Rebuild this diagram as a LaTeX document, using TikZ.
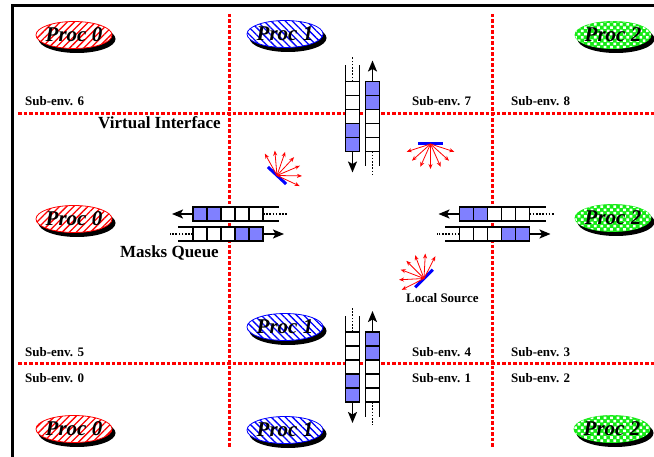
\documentclass[tikz,border=0pt]{standalone}
\usepackage{fontspec}
\setmainfont{Liberation Serif}
\usetikzlibrary{arrows.meta}
\usetikzlibrary{shapes.geometric}
\usetikzlibrary{patterns.meta}
\definecolor{qblue}{RGB}{128,128,255}
\definecolor{pgreen}{RGB}{20,235,20}
\tikzset{proc/.style = {ellipse, draw, fill = white, line width = 0.8pt, minimum width = 76pt, minimum height = 27pt, inner xsep = -10pt, inner ysep = -2pt, font = \bfseries\itshape\fontsize{21}{21}\selectfont}}
\tikzset{procA/.style = {proc, draw = red, postaction = {pattern = {Lines[angle = 45, distance = 5pt, line width = 1.3pt]}, pattern color = red}}}
\tikzset{procB/.style = {proc, draw = blue, postaction = {pattern = {Lines[angle = -45, distance = 5pt, line width = 1.3pt]}, pattern color = blue}}}
\tikzset{procC/.style = {proc, draw = pgreen, fill = pgreen, postaction = {pattern = {Dots[angle = 45, distance = 4.6pt, radius = 1.8pt]}, pattern color = white}}}
\tikzset{procshadow/.style = {fill = black}}
\tikzset{cell/.style = {draw, line width = 1.6pt, fill = white, minimum size = 14pt, inner sep = 0pt, transform shape}}
\tikzset{rail/.style = {line width = 1.6pt}}
\tikzset{feed/.style = {line width = 1.4pt, dash pattern = on 1.6pt off 1.6pt}}
\tikzset{qarrow/.style = {line width = 1.8pt, -{Stealth[length = 11pt, width = 9pt, inset = 2.5pt]}}}
\tikzset{ray/.style = {red, line width = 0.8pt, -{Stealth[length = 5pt, width = 4pt]}}}
\tikzset{srcbar/.style = {blue, line width = 3pt}}
\tikzset{envline/.style = {red, line width = 3pt, dash pattern = on 3.5pt off 2pt}}
\tikzset{sub/.style = {anchor = base west, inner sep = 0pt, font = \bfseries\fontsize{13}{15}\selectfont}}
\tikzset{tag/.style = {anchor = base east, inner sep = 0pt, font = \bfseries\fontsize{17}{19}\selectfont}}

\newcommand{\procnode}[5]{%
  \fill [procshadow] (#3 + 3, #4 + 4) ellipse [x radius = 38.5pt, y radius = 14pt];
  \node [#1] (#2) at (#3, #4) {#5};}

\newcommand{\queuepair}[4]{%
  \begin{scope}[shift = {(#2, #3)}, rotate = #4]
    \foreach \k/\ca/\cb in {0/qblue/white, 1/qblue/white, 2/white/white, 3/white/qblue, 4/white/qblue} {
      \node [cell, fill = \ca] (#1o\k) at (-28 + 14 * \k, -10) {};
      \node [cell, fill = \cb] (#1i\k) at (-28 + 14 * \k, 10) {};
    }
    \draw [rail] (35, -17) -- (51, -17) (35, -3) -- (51, -3);
    \draw [rail] (-35, 3) -- (-50, 3) (-35, 17) -- (-50, 17);
    \draw [feed] (35, -10) -- (59, -10);
    \draw [feed] (-35, 10) -- (-58, 10);
    \coordinate (#1oend) at (-56, -10);
    \coordinate (#1iend) at (56, 10);
    \draw [qarrow] (#1o0) -- (#1oend);
    \draw [qarrow] (#1i4) -- (#1iend);
  \end{scope}}

\newcommand{\lightsrc}[3]{%
  \begin{scope}[shift = {(#1, #2)}]
    \draw [srcbar] (#3 + 90 : 12.5) -- (#3 - 90 : 12.5);
    \foreach \a in {-72, -48, ..., 72}
      \draw [ray] (0, 0) -- (#3 + \a : 25);
  \end{scope}}

\begin{document}
\begin{tikzpicture}[x = 1pt, y = -1pt]
    \useasboundingbox (0, 0) rectangle (654, 457);

    \draw [line width = 3pt] (654, 6) -- (12, 6) -- (12, 457);

    % sub-environment boundaries
    \draw [envline] (18, 114) -- (654, 114);
    \draw [envline] (18, 364) -- (654, 364);
    \draw [envline] (229, 14) -- (229, 447);
    \draw [envline] (492, 14) -- (492, 447);

    \node [sub] (s6) at (25, 106) {Sub-env. 6};
    \node [sub] (s7) at (412, 106) {Sub-env. 7};
    \node [sub] (s8) at (511, 106) {Sub-env. 8};
    \node [sub] (s5) at (25, 357) {Sub-env. 5};
    \node [sub] (s4) at (412, 357) {Sub-env. 4};
    \node [sub] (s3) at (511, 357) {Sub-env. 3};
    \node [sub] (s0) at (25, 383) {Sub-env. 0};
    \node [sub] (s1) at (412, 383) {Sub-env. 1};
    \node [sub] (s2) at (511, 383) {Sub-env. 2};

    \node [tag] (vif) at (221, 129) {Virtual Interface};
    \node [tag] (mq) at (219, 258) {Masks Queue};
    \node [sub] (ls) at (406, 303) {Local Source};

    % processes
    \procnode{procA}{p0top}{74}{35}{Proc 0}
    \procnode{procB}{p1top}{285}{34}{Proc 1}
    \procnode{procC}{p2top}{613}{35}{Proc 2}
    \procnode{procA}{p0mid}{74}{219}{Proc 0}
    \procnode{procC}{p2mid}{613}{218}{Proc 2}
    \procnode{procB}{p1mid}{285}{327}{Proc 1}
    \procnode{procA}{p0bot}{74}{429}{Proc 0}
    \procnode{procB}{p1bot}{285}{430}{Proc 1}
    \procnode{procC}{p2bot}{612}{429}{Proc 2}

    % masks queues
    \queuepair{ql}{228}{224}{0}
    \queuepair{qr}{494.5}{224}{0}
    \queuepair{qt}{362.5}{116.5}{90}
    \queuepair{qb}{362.5}{367}{90}

    % local sources
    \lightsrc{277}{175.5}{-47}
    \lightsrc{430.5}{144}{90}
    \lightsrc{424}{278.5}{-135}
\end{tikzpicture}
\end{document}
